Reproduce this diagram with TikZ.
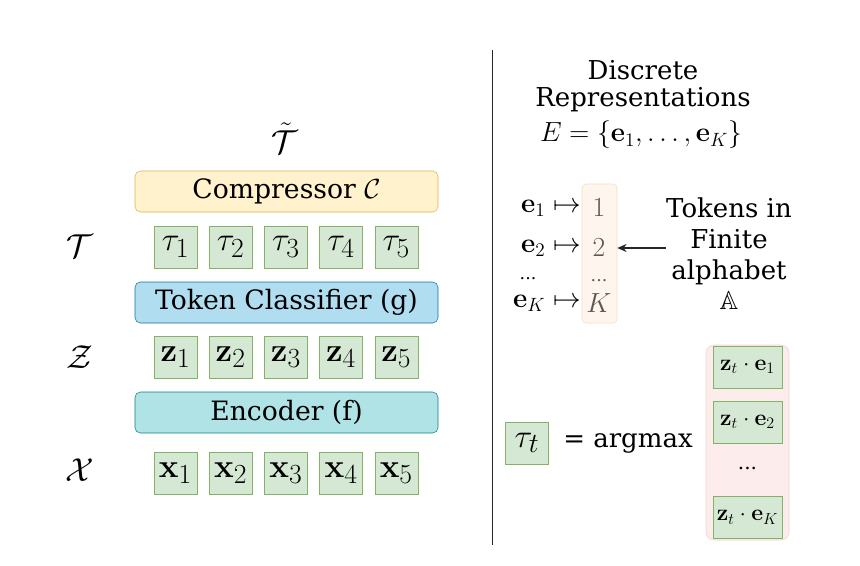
\documentclass[tikz,border=0pt]{standalone}
\usepackage[no-math]{fontspec}
\setmainfont{DejaVu Serif}
\usepackage{amsmath,amssymb}
\usepackage{xcolor}
\usetikzlibrary{arrows.meta,positioning}
\definecolor{TokGreen}{HTML}{D5E8D4}
\definecolor{TokGreenLine}{HTML}{82B366}
\definecolor{CompYellow}{HTML}{FFF2CC}
\definecolor{CompYellowLine}{HTML}{D6B656}
\definecolor{ClsBlue}{HTML}{B1DDF0}
\definecolor{ClsBlueLine}{HTML}{10739E}
\definecolor{EncTeal}{HTML}{B0E3E6}
\definecolor{EncTealLine}{HTML}{0E8088}
\definecolor{AlphaFill}{HTML}{FEF6EE}
\definecolor{AlphaLine}{HTML}{F6DDB4}
\definecolor{ScoreFill}{HTML}{FCEDEC}
\definecolor{ScoreLine}{HTML}{F5CFCC}
\definecolor{AlphaText}{HTML}{5E5650}

\begin{document}
\begin{tikzpicture}[x=0.75pt, y=-0.75pt,
    stage/.style={draw, rounded corners=4pt, minimum width=227.25pt, minimum height=30.75pt, inner sep=0pt, font=\fontsize{20}{24}\selectfont},
    tok/.style={draw=TokGreenLine, fill=TokGreen, minimum width=32.25pt, minimum height=31.5pt, inner sep=0pt, font=\fontsize{29}{34}\selectfont},
    space/.style={inner sep=0pt, font=\fontsize{24}{28}\selectfont},
    txt/.style={inner sep=0pt, font=\fontsize{19.5}{23}\selectfont},
    mth/.style={inner sep=0pt, font=\fontsize{21}{25}\selectfont},
    score/.style={tok, minimum width=51.75pt, font=\fontsize{16.5}{19}\selectfont},
    arrow/.style={-{Stealth[length=7pt, width=6pt]}, line width=1.1pt, draw=black!85}
]
\useasboundingbox (0,0) rectangle (860,565);

% left: stack
\node[space] (ttilde) at (285,138) {$\tilde{\mathcal{T}}$};
\node[stage, draw=CompYellowLine, fill=CompYellow] (comp) at (286.5,191.5) {Compressor $\mathcal{C}$};
\node[space] (tspace) at (80,246) {$\mathcal{T}$};
\node[tok] (tau1) at (175.5,247) {$\tau_1$};
\node[tok] (tau2) at (230.7,247) {$\tau_2$};
\node[tok] (tau3) at (285.9,247) {$\tau_3$};
\node[tok] (tau4) at (341.1,247) {$\tau_4$};
\node[tok] (tau5) at (396.3,247) {$\tau_5$};
\node[stage, draw=ClsBlueLine, fill=ClsBlue] (cls) at (286.5,302.5) {Token Classifier (g)};
\node[space] (zspace) at (80,357) {$\mathcal{Z}$};
\node[tok] (z1) at (175.5,357) {$\mathbf{z}_1$};
\node[tok] (z2) at (230.7,357) {$\mathbf{z}_2$};
\node[tok] (z3) at (285.9,357) {$\mathbf{z}_3$};
\node[tok] (z4) at (341.1,357) {$\mathbf{z}_4$};
\node[tok] (z5) at (396.3,357) {$\mathbf{z}_5$};
\node[stage, draw=EncTealLine, fill=EncTeal] (enc) at (286.5,412.5) {Encoder (f)};
\node[space] (xspace) at (80,470) {$\mathcal{X}$};
\node[tok] (x1) at (175.5,473) {$\mathbf{x}_1$};
\node[tok] (x2) at (230.7,473) {$\mathbf{x}_2$};
\node[tok] (x3) at (285.9,473) {$\mathbf{x}_3$};
\node[tok] (x4) at (341.1,473) {$\mathbf{x}_4$};
\node[tok] (x5) at (396.3,473) {$\mathbf{x}_5$};

% divider
\coordinate (divtop) at (492,50);
\coordinate (divbot) at (492,545);
\draw[black!85] (divtop) -- (divbot);

% right: codebook
\node[txt] (disc) at (643,70) {Discrete};
\node[txt] (repr) at (643,100) {Representations};
\node[mth] (cbook) at (641,135) {$E = \{\mathbf{e}_1, \ldots, \mathbf{e}_K\}$};
\node[draw=AlphaLine, fill=AlphaFill, rounded corners=3pt, minimum width=26.25pt, minimum height=104.25pt] (alpha) at (599.5,253.5) {};
\node[mth, text=AlphaText] (one) at (599,208) {$1$};
\node[mth, text=AlphaText] (two) at (599,248) {$2$};
\node[txt, text=AlphaText, font=\fontsize{13}{15}\selectfont] (adots) at (599,281) {...};
\node[mth, text=AlphaText] (kay) at (599,303) {$K$};
\node[mth, anchor=east] (e1) at (581,208) {$\mathbf{e}_1 \mapsto$};
\node[mth, anchor=east] (e2) at (581,248) {$\mathbf{e}_2 \mapsto$};
\node[txt, font=\fontsize{13}{15}\selectfont] (edots) at (528,279) {...};
\node[mth, anchor=east] (eK) at (581,303) {$\mathbf{e}_K \mapsto$};
\node[txt, align=center] (tokens) at (729,254) {Tokens in\\Finite\\alphabet\\$\mathbb{A}$};
\draw[arrow] (tokens.west |- two) -- (alpha.east |- two);

% right: argmax
\node[tok, font=\fontsize{28}{32}\selectfont] (taut) at (527,443) {$\tau_t$};
\node[txt] (argmax) at (628,443) {= argmax};
\node[draw=ScoreLine, fill=ScoreFill, rounded corners=6pt, minimum width=62.25pt, minimum height=146.25pt] (scores) at (747.5,442.5) {};
\node[score] (s1) at (747.5,367) {$\mathbf{z}_t \cdot \mathbf{e}_1$};
\node[score] (s2) at (747.5,422) {$\mathbf{z}_t \cdot \mathbf{e}_2$};
\node[txt, font=\fontsize{15}{18}\selectfont] (sdots) at (747.5,468) {...};
\node[score] (sK) at (747.5,517.5) {$\mathbf{z}_t \cdot \mathbf{e}_K$};
\end{tikzpicture}
\end{document}
